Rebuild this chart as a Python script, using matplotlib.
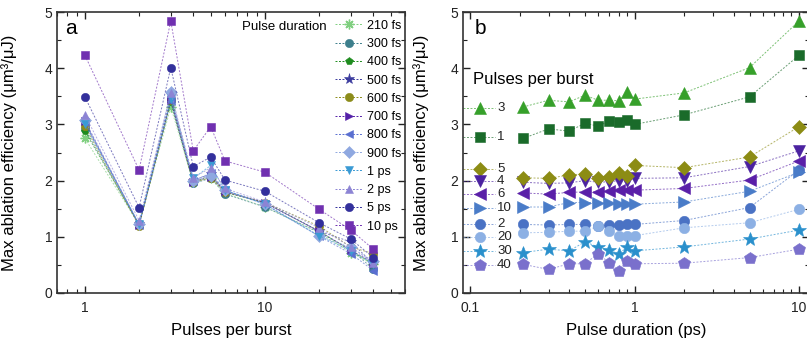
import matplotlib
matplotlib.use("Agg")
import matplotlib.pyplot as plt
from matplotlib.ticker import MultipleLocator, LogLocator, FuncFormatter, NullFormatter
import numpy as np

plt.rcParams['font.family'] = ['Liberation Sans', 'DejaVu Sans']

# Messgrößen
pulses = [1, 2, 3, 4, 5, 6, 10, 20, 30, 40]
durations_ps = [0.21, 0.3, 0.4, 0.5, 0.6, 0.7, 0.8, 0.9, 1, 2, 5, 10]
duration_labels = ['210 fs', '300 fs', '400 fs', '500 fs', '600 fs', '700 fs',
                   '800 fs', '900 fs', '1 ps', '2 ps', '5 ps', '10 ps']

# Max. Abtragseffizienz (µm³/µJ), je Pulsanzahl über der Pulsdauer
eff_1 = [2.75, 2.92, 2.88, 3.02, 2.97, 3.06, 3.04, 3.07, 3.00, 3.17, 3.49, 4.23]
eff_2 = [1.22, 1.21, 1.22, 1.22, 1.19, 1.21, 1.21, 1.22, 1.22, 1.29, 1.52, 2.19]
eff_3 = [3.31, 3.43, 3.40, 3.52, 3.43, 3.43, 3.42, 3.58, 3.45, 3.56, 4.01, 4.84]
eff_4 = [1.97, 1.95, 1.96, 2.00, 1.97, 1.98, 2.00, 1.99, 2.04, 2.05, 2.25, 2.53]
eff_5 = [2.05, 2.04, 2.10, 2.12, 2.05, 2.07, 2.13, 2.09, 2.27, 2.23, 2.42, 2.96]
eff_6 = [1.78, 1.76, 1.79, 1.80, 1.80, 1.81, 1.83, 1.83, 1.83, 1.86, 2.01, 2.35]
eff_10 = [1.53, 1.53, 1.61, 1.61, 1.61, 1.60, 1.58, 1.58, 1.58, 1.62, 1.81, 2.15]
eff_20 = [1.07, 1.08, 1.10, 1.10, 1.19, 1.10, 1.01, 1.01, 1.02, 1.16, 1.25, 1.49]
eff_30 = [0.72, 0.78, 0.75, 0.91, 0.82, 0.76, 0.70, 0.81, 0.75, 0.82, 0.96, 1.12]
eff_40 = [0.51, 0.42, 0.52, 0.52, 0.70, 0.54, 0.40, 0.57, 0.52, 0.53, 0.63, 0.78]

eff = {1: eff_1, 2: eff_2, 3: eff_3, 4: eff_4, 5: eff_5, 6: eff_6,
       10: eff_10, 20: eff_20, 30: eff_30, 40: eff_40}
table = np.array([eff[n] for n in pulses])  # Zeilen: Pulsanzahl, Spalten: Pulsdauer

# Beschriftung in b): Reihenfolge und Höhe der Marker links
b_order = [3, 1, 5, 4, 6, 10, 2, 20, 30, 40]
b_label_y = [3.30, 2.77, 2.21, 1.99, 1.76, 1.52, 1.23, 0.99, 0.74, 0.49]

# Stile
a_styles = [
    ('#80cf80', (8, 2, 0)), ('#3d7f8c', 'o'), ('#1e8c1e', 'p'), ('#3b3b9e', '*'),
    ('#8c8c1a', 'o'), ('#5420a8', '>'), ('#5a6fd0', '<'), ('#8fa8e0', 'D'),
    ('#3a9ad4', 'v'), ('#8c84d4', '^'), ('#33309c', 'o'), ('#7030b0', 's'),
]
b_styles = {
    1: ('#1a6b2a', 's', 7), 2: ('#4a72c4', 'o', 7.5), 3: ('#36a02a', '^', 8.5),
    4: ('#4b22a0', 'v', 8.5), 5: ('#8c8c14', 'D', 7), 6: ('#5a1fa8', '<', 8.5),
    10: ('#4a7cc8', '>', 8.5), 20: ('#8cb0e4', 'o', 7.5), 30: ('#2a90cc', '*', 10.5),
    40: ('#7a70cc', 'p', 9),
}
ls = (0, (2, 1.6))
line_kw = dict(linestyle=ls, linewidth=0.7, alpha=0.65)


def style_axes(ax):
    ax.set_xscale('log')
    ax.set_ylim(0, 5)
    ax.yaxis.set_major_locator(MultipleLocator(1))
    ax.yaxis.set_minor_locator(MultipleLocator(0.5))
    ax.xaxis.set_major_locator(LogLocator(base=10))
    ax.xaxis.set_minor_locator(LogLocator(base=10, subs=np.arange(2, 10)))
    ax.xaxis.set_major_formatter(FuncFormatter(lambda v, _: f'{v:g}'))
    ax.xaxis.set_minor_formatter(NullFormatter())
    ax.tick_params(which='both', direction='in', top=True, right=True,
                   labelsize=10, colors='#222222')
    ax.tick_params(which='major', length=5, width=1)
    ax.tick_params(which='minor', length=3, width=0.8)
    ax.tick_params(axis='x', pad=6)
    for s in ax.spines.values():
        s.set_linewidth(1.2)
        s.set_color('#333333')


def draw_series(ax, x, y, col, mk, ms, mew=0.4):
    ax.plot(x, y, color=col, **line_kw)
    return ax.plot(x, y, linestyle='none', marker=mk, markersize=ms,
                   markeredgewidth=mew, markeredgecolor=col, markerfacecolor=col)[0]


fig = plt.figure(figsize=(8.07, 3.48), dpi=100)
ax_a = fig.add_axes([57 / 807, 55 / 348, 348 / 807, 281 / 348])
ax_b = fig.add_axes([463 / 807, 55 / 348, 346 / 807, 281 / 348])

# a) Effizienz über Pulse pro Burst
handles = []
for i, (lab, (col, mk)) in enumerate(zip(duration_labels, a_styles)):
    ms = 8 if mk == '*' else (7 if mk == (8, 2, 0) else 6)
    mew = 1 if mk == (8, 2, 0) else 0.4
    draw_series(ax_a, pulses, table[:, i], col, mk, ms, mew)
    handles.append(plt.Line2D([], [], color=col, linestyle=ls, linewidth=0.7,
                              marker=mk, markersize=ms, markeredgewidth=mew,
                              markeredgecolor=col, markerfacecolor=col))
style_axes(ax_a)
ax_a.set_xlim(0.7, 60)
ax_a.set_xlabel('Pulses per burst', fontsize=12)
ax_a.xaxis.set_label_coords(0.5, -0.105)
ax_a.set_ylabel('Max ablation efficiency (μm³/μJ)', fontsize=12)
ax_a.yaxis.set_label_coords(-0.115, 0.5)
ax_a.text(0.023, 0.943, 'a', transform=ax_a.transAxes, fontsize=15, va='center')
leg = ax_a.legend(handles, duration_labels, loc='upper left', bbox_to_anchor=(0.80, 0.972),
                  frameon=False, fontsize=9, handlelength=2.2, handletextpad=0.3,
                  labelspacing=0.5, borderpad=0, borderaxespad=0)
ax_a.text(0.776, 0.945, 'Pulse duration', transform=ax_a.transAxes, fontsize=9.5,
          ha='right', va='center')

# b) Effizienz über Pulsdauer
x_left = 0.0906
for n in pulses:
    col, mk, ms = b_styles[n]
    draw_series(ax_b, durations_ps, eff[n], col, mk, ms)
for n, y in zip(b_order, b_label_y):
    col, mk, ms = b_styles[n]
    ax_b.plot([x_left, 0.142], [y, y], color=col, **line_kw)
    ax_b.plot([0.115], [y], linestyle='none', marker=mk, markersize=ms, color=col,
              markeredgewidth=0.4)
    ax_b.text(0.146, y, str(n), fontsize=9.5, va='center', color='#222222')
style_axes(ax_b)
ax_b.set_xlim(x_left, 11.5)
ax_b.set_xlabel('Pulse duration (ps)', fontsize=12)
ax_b.xaxis.set_label_coords(0.5, -0.105)
ax_b.set_ylabel('Max ablation efficiency (μm³/μJ)', fontsize=12)
ax_b.yaxis.set_label_coords(-0.097, 0.5)
ax_b.text(0.035, 0.943, 'b', transform=ax_b.transAxes, fontsize=15, va='center')
ax_b.text(0.029, 0.76, 'Pulses per burst', transform=ax_b.transAxes, fontsize=12,
          va='center')

fig.savefig('out.png', dpi=100)
